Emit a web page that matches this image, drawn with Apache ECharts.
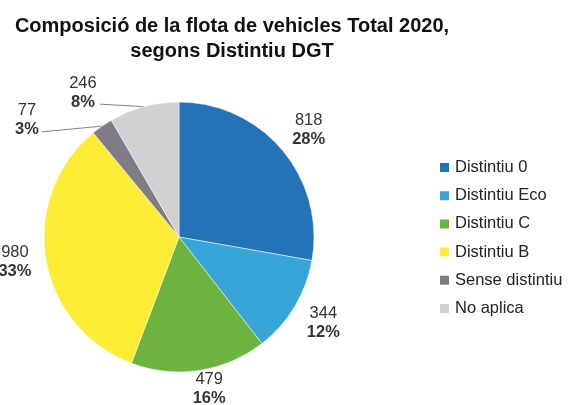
<!DOCTYPE html>
<html>
<head>
<meta charset="utf-8">
<script src="https://cdn.jsdelivr.net/npm/echarts@6/dist/echarts.min.js"></script>
<style>
  html, body { margin: 0; padding: 0; background: #fff; }
  #chart { width: 568px; height: 405px; }
</style>
</head>
<body>
<div id="chart"></div>
<script>
const categories = ['Distintiu 0', 'Distintiu Eco', 'Distintiu C', 'Distintiu B', 'Sense distintiu', 'No aplica'];
const values = [818, 344, 479, 980, 77, 246];
const colors = ['#2473b6', '#37a5d7', '#6cb33f', '#fcec36', '#7f7c85', '#d1d0d2'];
const titleText = 'Composició de la flota de vehicles Total 2020,\nsegons Distintiu DGT';

const FONT = "'Liberation Sans', Arial, sans-serif";
const center = [179, 237];
const radius = 135;
// where each label sits: distance from centre and angle shift from the slice middle (deg)
const labelDist = [168, 168, 155, 166, 192, 173];
const labelTurn = [0.5, -0.3, -2.6, 0.7, -17.6, -18.7];
const withLine = [false, false, false, false, true, true];

const total = values.reduce((a, b) => a + b, 0);
const midAngles = [];
let acc = 0;
values.forEach(v => {
  midAngles.push((acc + v / 2) / total * 360);
  acc += v;
});

const chart = echarts.init(document.getElementById('chart'));
chart.setOption({
  animation: false,
  textStyle: { fontFamily: FONT },
  color: colors,
  graphic: [{
    type: 'text',
    x: 232,
    y: 14,
    style: {
      text: titleText,
      align: 'center',
      verticalAlign: 'top',
      fontFamily: FONT,
      fontSize: 20,
      fontWeight: 'bold',
      lineHeight: 25,
      fill: '#111'
    }
  }],
  legend: {
    orient: 'vertical',
    left: 433,
    top: 154,
    icon: 'rect',
    itemWidth: 11,
    itemHeight: 11,
    itemGap: 11.2,
    selectedMode: false,
    textStyle: { fontFamily: FONT, fontSize: 16.5, color: '#222' },
    data: categories
  },
  series: [{
    type: 'pie',
    center: center,
    radius: radius,
    startAngle: 90,
    clockwise: true,
    percentPrecision: 0,
    avoidLabelOverlap: false,
    itemStyle: { borderColor: '#fff', borderWidth: 0.5 },
    label: {
      show: true,
      position: 'outside',
      formatter: '{v|{c}}\n{p|{d}%}',
      rich: {
        v: { fontFamily: FONT, fontSize: 16.5, color: '#333', lineHeight: 19, align: 'center' },
        p: { fontFamily: FONT, fontSize: 16.5, fontWeight: 'bold', color: '#333', lineHeight: 19, align: 'center' }
      }
    },
    labelLine: { show: false },
    labelLayout: function (params) {
      const i = params.dataIndex;
      const a = (midAngles[i] + labelTurn[i]) * Math.PI / 180;
      const x = center[0] + labelDist[i] * Math.sin(a);
      const y = center[1] - labelDist[i] * Math.cos(a);
      const out = { x: x, y: y, align: 'center', verticalAlign: 'middle' };
      if (withLine[i]) {
        const m = midAngles[i] * Math.PI / 180;
        const ex = center[0] + radius * Math.sin(m);
        const ey = center[1] - radius * Math.cos(m);
        const lx = x + params.labelRect.width / 2 + 3;
        const ly = y + (i === 4 ? 12 : 11);
        out.labelLinePoints = [[ex, ey], [lx, ly], [lx, ly]];
      }
      return out;
    },
    data: categories.map((name, i) => ({
      name: name,
      value: values[i],
      labelLine: withLine[i] ? { show: true, lineStyle: { color: '#808080', width: 1 } } : { show: false }
    }))
  }]
});
</script>
</body>
</html>
